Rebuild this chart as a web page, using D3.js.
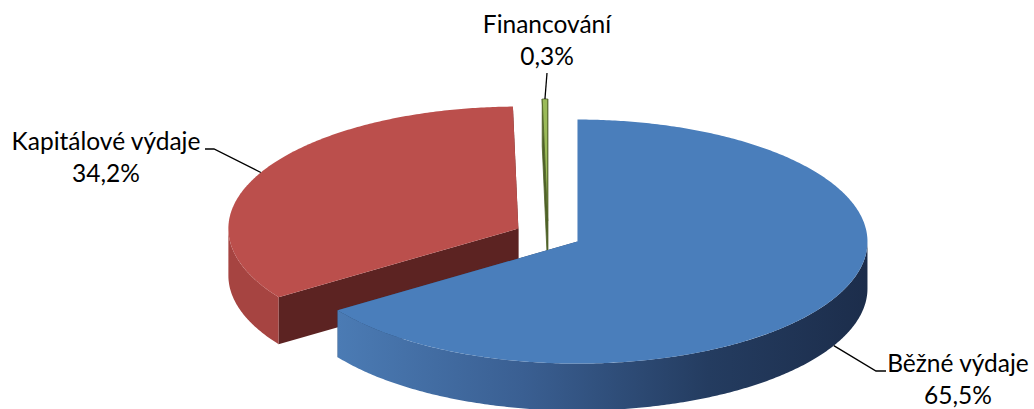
<!DOCTYPE html>
<html>
<head>
<meta charset="utf-8">
<script src="https://cdn.jsdelivr.net/npm/d3@7"></script>
<style>
  html, body { margin: 0; padding: 0; background: #fff; }
  svg { display: block; }
  text { font-family: Lato, "Open Sans", sans-serif; fill: #000; }
</style>
</head>
<body>
<svg id="chart" width="1034" height="409"></svg>
<script>
const categories = ['Běžné výdaje', 'Kapitálové výdaje', 'Financování'];
const shares = [65.5, 34.2, 0.3];

const width = 1034;
const height = 409;
const cx = 548, cy = 235;   // pie centre
const rx = 290, ry = 122;   // ellipse radii of the tilted disc
const depth = 47;           // thickness of the disc
const explode = 0.115;

const topColors = ['#4a7ebb', '#bb4f4c', '#9bbb59'];
const sideColors = ['url(#blueSide)', '#a64441', '#6f8a3a'];
const cutColors = ['#2b4669', '#5c2322', '#4f6228'];

const svg = d3.select('#chart');
const locale = d3.formatLocale({ decimal: ',', thousands: ' ', grouping: [3], currency: ['', ' Kč'] });
const fmt = locale.format('.1f');

const pie = d3.pie().sort(null).value(d => d.value);
const arcs = pie(categories.map((name, i) => ({ name, value: shares[i] })));

arcs.forEach(a => {
  const mid = (a.startAngle + a.endAngle) / 2;
  a.mid = mid;
  a.c = [cx + explode * rx * Math.sin(mid), cy - explode * ry * Math.cos(mid)];
});

const pt = (c, ang, dy = 0) => [c[0] + rx * Math.sin(ang), c[1] - ry * Math.cos(ang) + dy];
const line = d3.line();
const sample = (a0, a1) => {
  const n = Math.max(2, Math.ceil((a1 - a0) / 0.01));
  return d3.range(n + 1).map(i => a0 + (a1 - a0) * i / n);
};

const defs = svg.append('defs');
const grad = defs.append('linearGradient')
  .attr('id', 'blueSide')
  .attr('gradientUnits', 'userSpaceOnUse')
  .attr('x1', pt(arcs[0].c, arcs[0].endAngle)[0]).attr('x2', arcs[0].c[0] + rx)
  .attr('y1', 0).attr('y2', 0);
[[0, '#4b7bb4'], [0.35, '#3a5f92'], [0.7, '#243c60'], [1, '#1c2d4b']].forEach(([o, c]) =>
  grad.append('stop').attr('offset', o).attr('stop-color', c));

const g = svg.append('g');

// back to front: capital, financing, current
[1, 2, 0].forEach(i => {
  const a = arcs[i];
  const c = a.c;
  const stroke = i === 2 ? '#4f6228' : 'none';
  // cut faces
  [a.startAngle, a.endAngle].forEach(ang => {
    const e = pt(c, ang);
    g.append('path')
      .attr('d', line([c, e, [e[0], e[1] + depth], [c[0], c[1] + depth]]) + 'Z')
      .attr('fill', cutColors[i])
      .attr('stroke', stroke).attr('stroke-width', 0.8);
  });
  // outer side (front half only)
  const s0 = Math.max(a.startAngle, Math.PI / 2);
  const s1 = Math.min(a.endAngle, 3 * Math.PI / 2);
  if (s1 > s0) {
    const angs = sample(s0, s1);
    const pts = angs.map(t => pt(c, t)).concat(angs.slice().reverse().map(t => pt(c, t, depth)));
    g.append('path').attr('d', line(pts) + 'Z').attr('fill', sideColors[i]);
  }
  // top
  const topPts = [c].concat(sample(a.startAngle, a.endAngle).map(t => pt(c, t)));
  g.append('path')
    .attr('d', line(topPts) + 'Z')
    .attr('fill', topColors[i])
    .attr('stroke', stroke).attr('stroke-width', 0.8);
});

// labels with leader lines
const labelPos = [
  { x: 958, y: 372, elbow: [[876, 371], [886, 371]] },
  { x: 106, y: 150, elbow: [[214, 149], [205, 149]] },
  { x: 547, y: 33, elbow: [[547, 73]] }
];

arcs.forEach((a, i) => {
  const front = Math.cos(a.mid) < 0;
  const start = pt(a.c, a.mid, front ? depth : 0);
  g.append('path')
    .attr('d', line([start].concat(labelPos[i].elbow)))
    .attr('fill', 'none')
    .attr('stroke', '#000')
    .attr('stroke-width', 1.3);
  const t = svg.append('text')
    .attr('x', labelPos[i].x)
    .attr('y', labelPos[i].y)
    .attr('text-anchor', 'middle')
    .style('font-size', '24.5px');
  t.append('tspan').attr('x', labelPos[i].x).text(a.data.name);
  t.append('tspan').attr('x', labelPos[i].x).attr('dy', 32).text(fmt(a.data.value) + '%');
});
</script>
</body>
</html>
